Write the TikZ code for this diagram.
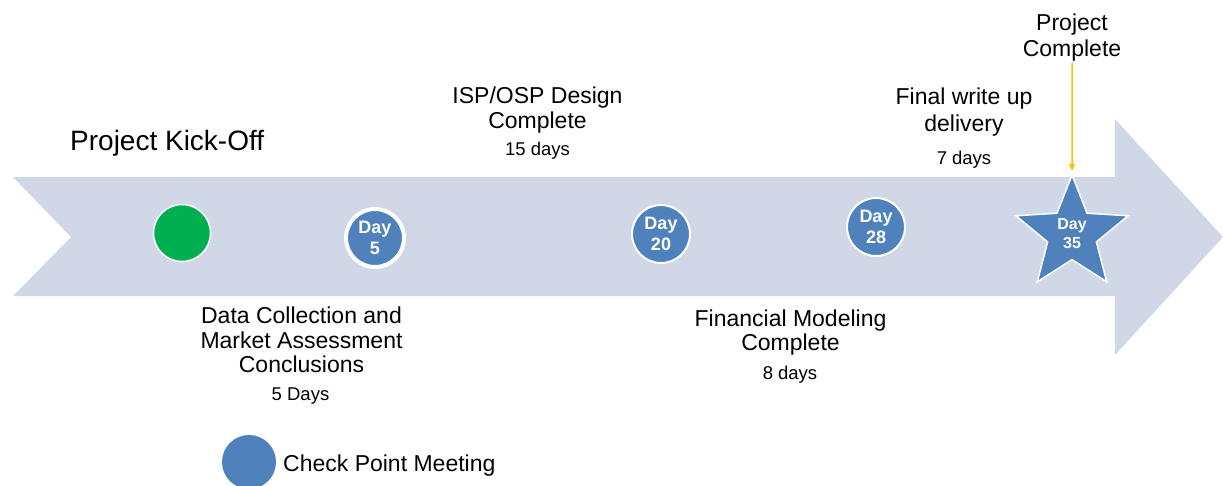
\documentclass[tikz,border=0pt]{standalone}
\usepackage{fontspec}
\setmainfont{Liberation Sans}
\usetikzlibrary{shapes.geometric,arrows.meta}
\definecolor{shaftfill}{HTML}{D0D8E8}
\definecolor{cpblue}{HTML}{4F81BD}
\definecolor{kickgreen}{HTML}{00B050}
\definecolor{goldline}{HTML}{FFC000}
\tikzset{
  checkpt/.style={circle, fill=cpblue, draw=white, line width=2pt, minimum size=58pt,
    inner sep=0pt, text=white, align=center, font=\bfseries\fontsize{18}{21}\selectfont},
  milestone/.style={font=\fontsize{23}{24.5}\selectfont, align=center, inner sep=0pt},
  widemilestone/.style={milestone, font=\fontsize{23}{26.5}\selectfont},
  duration/.style={font=\fontsize{18.5}{22}\selectfont, inner sep=0pt},
}
\begin{document}
\begin{tikzpicture}[x=1pt,y=-1pt]
\useasboundingbox (0,0) rectangle (1223,485);
% big timeline arrow
\fill[shaftfill] (13,177) -- (1115,177) -- (1115,119) -- (1223,237) -- (1115,355)
  -- (1115,296) -- (13,296) -- (71,237) -- cycle;
% markers
\node[circle, fill=kickgreen, draw=white, line width=1.5pt, minimum size=57pt, inner sep=0pt] (kick) at (182,233) {};
\node[checkpt, line width=4pt, minimum size=58pt] (d5) at (375,238) {Day\\5};
\node[checkpt] (d20) at (661,234) {Day\\20};
\node[checkpt] (d28) at (876,227) {Day\\28};
\node[star, star points=5, star point ratio=2.3, minimum size=118pt, inner sep=0pt,
  fill=cpblue, draw=white, line width=1.5pt, text=white, align=center,
  font=\bfseries\fontsize{16}{19}\selectfont] (d35) at (1072,234) {Day\\35};
% texts
\node[milestone, font=\fontsize{28}{30}\selectfont, anchor=west] (kicktxt) at (70,143) {Project Kick-Off};
\node[widemilestone] (pc) at (1072,37.5) {Project\\Complete};
\node[widemilestone] (fw) at (964,112) {Final write up\\delivery};
\node[duration] (fwd) at (964,160) {7 days};
\node[milestone] (isp) at (537.5,110) {ISP/OSP Design\\Complete};
\node[duration] (ispd) at (537.5,151) {15 days};
\node[milestone] (dc) at (301.5,340) {Data Collection and\\Market Assessment\\Conclusions};
\node[duration] (dcd) at (300.5,396) {5 Days};
\node[milestone] (fm) at (790.5,332.5) {Financial Modeling\\Complete};
\node[duration] (fmd) at (790,375) {8 days};
% project complete pointer
\draw[goldline, line width=1.5pt, -{Triangle[length=7pt,width=6pt]}, shorten <=1pt, shorten >=2pt] (pc.south) -- (d35.north);
% legend
\node[circle, fill=cpblue, minimum size=54pt, inner sep=0pt] (legdot) at (249,462) {};
\node[milestone, anchor=west] (legtxt) at (283,466) {Check Point Meeting};
\end{tikzpicture}
\end{document}
